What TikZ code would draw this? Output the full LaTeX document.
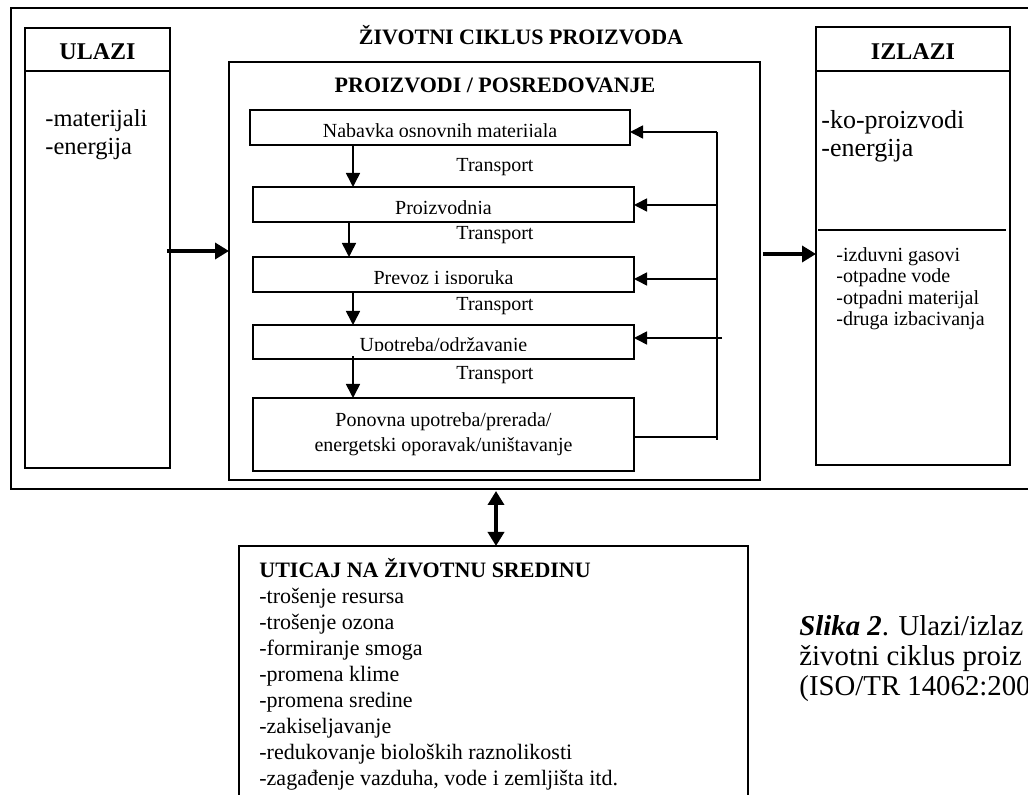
\documentclass[tikz,border=0pt]{standalone}
\usepackage{fontspec}
\setmainfont{Liberation Serif}
\usetikzlibrary{arrows.meta,calc}

\newcommand{\cuttext}[1]{%
  \clip ([yshift=4pt]path picture bounding box.south west) rectangle (path picture bounding box.north east);
  \node[anchor=base, inner sep=0pt, font=\fontsize{10}{12}\selectfont] at ([yshift=3.5pt]path picture bounding box.south) {#1};}

\begin{document}
\begin{tikzpicture}[x=0.5pt, y=-0.5pt, line join=miter,
    box/.style={draw, line width=1pt, outer sep=0pt, inner sep=0pt, anchor=north west},
    stepbox/.style={box, minimum width=190.5pt, minimum height=17.5pt},
    flow/.style={line width=0.8pt, -{Triangle[length=7pt, width=7pt]}},
    back/.style={line width=0.8pt, -{Triangle[length=6.5pt, width=6.5pt]}},
    bigflow/.style={line width=2pt, -{Triangle[length=7pt, width=8pt]}},
    dblflow/.style={line width=2pt, {Triangle[length=7pt, width=8pt]}-{Triangle[length=7pt, width=8pt]}},
    txt/.style={inner sep=0pt, font=\fontsize{10}{12}\selectfont},
    head/.style={inner sep=0pt, font=\bfseries\fontsize{11}{13}\selectfont}]
  \useasboundingbox (0,0) rectangle (1028,795);

  % outer frame and the three columns
  \node[box, minimum width=517pt, minimum height=240.5pt] (ciklus) at (11,8) {};
  \node[box, minimum width=72.5pt, minimum height=220pt] (ulazi) at (25,28) {};
  \node[box, minimum width=265.5pt, minimum height=209pt] (proc) at (229,62) {};
  \node[box, minimum width=97pt, minimum height=219pt] (izlazi) at (816,27) {};

  \node[head] (naslov) at (521,35) {ŽIVOTNI CIKLUS PROIZVODA};
  \node[head] (proiz) at (495,85) {PROIZVODI / POSREDOVANJE};

  % inputs
  \draw[line width=1pt] ([yshift=-21.5pt]ulazi.north west) -- ([yshift=-21.5pt]ulazi.north east);
  \node[inner sep=0pt, font=\bfseries\fontsize{12}{14}\selectfont] (ulazinaslov) at (97.5,52) {ULAZI};
  \node[inner sep=0pt, anchor=north west, align=left, font=\fontsize{12.25}{14}\selectfont] (ulazilista) at (45,109)
    {-materijali\\-energija};

  % outputs
  \draw[line width=1pt] ([yshift=-22pt]izlazi.north west) -- ([yshift=-22pt]izlazi.north east);
  \draw[line width=1pt] ([xshift=1pt, yshift=-101.5pt]izlazi.north west) -- ([xshift=-2pt, yshift=-101.5pt]izlazi.north east);
  \node[inner sep=0pt, font=\bfseries\fontsize{12}{14}\selectfont] (izlazinaslov) at (913,52) {IZLAZI};
  \node[inner sep=0pt, anchor=north west, align=left, font=\fontsize{13}{14}\selectfont] (izlazilista) at (821,110)
    {-ko-proizvodi\\-energija};
  \node[inner sep=0pt, anchor=north west, align=left, font=\fontsize{10}{10.75}\selectfont] (emisije) at (836,247)
    {-izduvni gasovi\\-otpadne vode\\-otpadni materijal\\-druga izbacivanja};

  % life cycle stages
  \node[stepbox, minimum width=190pt, path picture={\cuttext{Nabavka osnovnih materijala}}] (s1) at (250,110) {};
  \node[stepbox, path picture={\cuttext{Proizvodnja}}] (s2) at (253,187) {};
  \node[stepbox, path picture={\cuttext{Prevoz i isporuka}}] (s3) at (253,257) {};
  \node[stepbox, minimum height=17pt, path picture={\cuttext{Upotreba/održavanje}}] (s4) at (253,325) {};
  \node[stepbox, minimum height=36.5pt, align=center, font=\fontsize{10}{12.5}\selectfont] (s5) at (253,398)
    {Ponovna upotreba/prerada/\\energetski oporavak/uništavanje};

  \node[txt] (t1) at (495,167) {Transport};
  \node[txt] (t2) at (495,235) {Transport};
  \node[txt] (t3) at (495,306) {Transport};
  \node[txt] (t4) at (495,375) {Transport};

  \coordinate (d1) at (353,0);
  \coordinate (d2) at (349,0);
  \draw[flow] (s1.south -| d1) -- (s2.north -| d1);
  \draw[flow] (s2.south -| d2) -- (s3.north -| d2);
  \draw[flow] (s3.south -| d1) -- (s4.north -| d1);
  \draw[flow] ([yshift=1.5pt]s4.south -| d1) -- (s5.north -| d1);

  % feedback loop
  \coordinate (fb1) at (717,132);
  \coordinate (fb2) at (717,205);
  \coordinate (fb3) at (717,279);
  \coordinate (fb4) at (722,338);
  \coordinate (fb5) at (717,437);
  \coordinate (fbend) at (717,440);
  \draw[line width=0.8pt] (fb1) -- (fbend);
  \draw[back] (fb1) -- (s1.east |- fb1);
  \draw[back] (fb2) -- (s2.east |- fb2);
  \draw[back] (fb3) -- (s3.east |- fb3);
  \draw[back] (fb4) -- (s4.east |- fb4);
  \draw[line width=0.8pt] (s5.east |- fb5) -- (fb5);

  % in and out
  \coordinate (ulaz) at (167,251);
  \coordinate (izlaz) at (763,254);
  \draw[bigflow] (ulaz) -- (proc.west |- ulaz);
  \draw[bigflow] (izlaz) -- (izlazi.west |- izlaz);

  % environmental impact
  \node[box, minimum width=254.5pt, minimum height=150pt] (uticaj) at (239,546) {};
  \coordinate (veza) at (496,491);
  \draw[dblflow] (veza) -- (uticaj.north -| veza);
  \node[inner sep=0pt, anchor=north west, align=left, font=\fontsize{11}{13}\selectfont] (uticajlista) at (259,558)
    {\textbf{UTICAJ NA ŽIVOTNU SREDINU}\\-trošenje resursa\\-trošenje ozona\\-formiranje smoga\\-promena klime\\-promena sredine\\-zakiseljavanje\\-redukovanje bioloških raznolikosti\\-zagađenje vazduha, vode i zemljišta itd.};

  % caption
  \node[inner sep=0pt, anchor=north west, align=left, font=\fontsize{14.4}{15}\selectfont] (slika) at (799,615)
    {\textbf{\textit{Slika 2}}. Ulazi/izlaz\\životni ciklus proiz\\(ISO/TR 14062:200};
\end{tikzpicture}
\end{document}
